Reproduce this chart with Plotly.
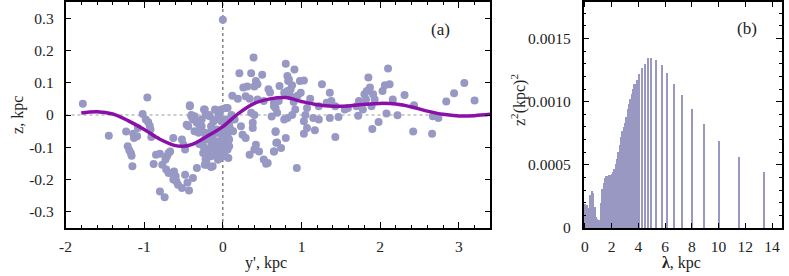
import plotly.graph_objects as go

# ---------------- panel (a): scatter + fitted curve ----------------
pts_x = [
    -1.78, -1.45, -1.23, -1.14, -1.13, -1.21, -1.19, -1.17, -1.16, -1.15, -1.08,
    -0.96, -1.02, -0.98, -0.95, -0.93, -0.92, -0.91, -1.09, -0.85, -0.88, -0.80, -0.74,
    -0.77, -0.73, -0.71, -0.69, -0.67, -0.63, -0.72, -0.69, -0.65, -0.62, -0.60, -0.63,
    -0.59, -0.57, -0.52, -0.48, -0.45, -0.43, -0.38, -0.52, -0.48, -0.50, -0.42, -0.44,
    -0.40, -0.38, -0.36, -0.33, -0.31, -0.29, -0.27, -0.24, -0.22, -0.23, -0.25, -0.24,
    -0.22, -0.21, -0.19, -0.18, -0.33, -0.80,
    0.00, 0.39, 0.21, 0.36, 0.50, 0.42, 0.26, 0.31, 0.40, 0.44, 0.29, 0.34, 0.19, 0.44,
    0.52, 0.65, 0.67, 0.36, 0.40, 0.38, 0.38, 0.23, 0.25, 0.29, 0.42, 0.40, 0.46, 0.34,
    0.52, 0.55, 0.65, 0.67, 0.68, 0.06, 0.11, 0.04, 0.08, 0.13, 0.08, 0.06, 0.07, -0.15,
    -0.06, -0.04, -0.10, -0.19, -0.21, -0.15, -0.10, -0.06, -0.02, -0.17, -0.08, -0.04,
    0.00, -0.13, -0.17, -0.06, 0.02, -0.02, 0.02, -0.10, -0.15, 0.04, 0.02, -0.02, 0.15,
    0.80, 0.91, 0.82, 0.84, 0.83, 0.98, 1.03, 1.26, 0.88, 0.86, 0.82, 0.78, 0.99, 1.36,
    0.86, 1.11, 0.71, 0.90, 0.65, 1.32, 1.38, 1.43, 1.22, 1.07, 0.92, 1.05, 0.88, 0.82,
    0.78, 1.15, 1.22, 1.36, 1.47, 1.03, 1.07, 1.17, 1.03, 0.67, 0.80, 0.69, 0.74, 0.65,
    1.43, 0.94, 0.69, 0.57,
    2.10, 1.85, 2.06, 2.12, 1.87, 1.83, 1.80, 1.91, 2.31, 2.03, 1.73, 1.82, 1.93, 2.16,
    1.59, 1.70, 1.78, 1.89, 1.72, 2.08, 2.22, 1.98, 1.90, 2.42, 1.55,
    2.43, 2.67, 2.74, 2.66, 2.84, 2.94, 3.07, 3.20,
    -0.23, -0.17, -0.10, -0.04, 0.04, -0.27, -0.23, -0.15, -0.06, -0.19, -0.10, -0.02,
    -0.25, -0.15, -0.06, -0.23, -0.13, 0.02, 0.08, 0.06, -0.40, -0.33, -0.36, -0.46,
    -0.42, -0.12, -0.08, 0.10, 0.12, -0.30, 0.60, 0.72, 0.95, 0.58, 0.62,
]
pts_z = [
    0.035, -0.064, -0.051, -0.058, -0.071, -0.097, -0.109, -0.118, -0.126, -0.159, -0.040,
    0.054, 0.003, -0.014, -0.022, -0.033, -0.045, -0.068, -0.066, -0.123, -0.152, -0.237, -0.255,
    -0.154, -0.138, -0.128, -0.118, -0.113, -0.071, -0.169, -0.180, -0.180, -0.175, -0.190, -0.200,
    -0.206, -0.216, -0.226, -0.185, -0.209, -0.234, -0.195, -0.076, -0.107, -0.092, 0.030, -0.035,
    0.000, -0.014, -0.004, -0.019, -0.055, -0.035, -0.014, 0.017, 0.000, -0.076, -0.097, -0.118,
    -0.138, -0.154, -0.128, -0.107, -0.164, -0.120,
    0.295, 0.178, 0.129, 0.129, 0.125, 0.105, 0.085, 0.088, 0.088, 0.095, 0.058, 0.050, 0.050, 0.048,
    0.043, 0.038, 0.022, 0.007, 0.000, -0.024, -0.040, -0.035, -0.061, -0.071, -0.092, -0.107, -0.113, -0.123,
    -0.138, -0.151, -0.113, -0.050, -0.086, 0.022, 0.000, -0.014, -0.030, -0.050, -0.076, -0.107, -0.133, -0.161,
    -0.138, -0.128, -0.107, -0.118, -0.144, -0.035, -0.014, 0.007, 0.017, -0.004, -0.045, -0.055,
    -0.066, -0.066, -0.076, -0.081, -0.086, -0.102, -0.118, -0.086, -0.097, -0.050, -0.035, -0.019, -0.014,
    0.159, 0.141, 0.121, 0.110, 0.105, 0.105, 0.107, 0.095, 0.092, 0.079, 0.074, 0.069, 0.069, 0.069,
    0.058, 0.050, 0.043, 0.040, 0.027, 0.038, 0.043, 0.027, 0.027, 0.022, 0.017, 0.000, 0.000, -0.009,
    -0.014, -0.009, -0.014, -0.009, -0.006, -0.019, -0.040, -0.047, -0.058, -0.053, -0.071, -0.085, -0.102, -0.113,
    -0.068, -0.164, 0.007, -0.149,
    0.144, 0.116, 0.092, 0.095, 0.085, 0.074, 0.064, 0.064, 0.062, 0.074, 0.043, 0.048, 0.048, 0.048,
    0.022, 0.027, 0.017, 0.027, -0.002, 0.005, -0.001, -0.022, -0.043, -0.051, 0.017,
    0.030, -0.004, -0.009, -0.058, 0.042, 0.067, 0.099, 0.045,
    0.017, 0.000, 0.017, -0.004, 0.022, -0.035, -0.055, -0.050, -0.055, -0.076, -0.086, -0.097,
    -0.118, -0.128, -0.138, -0.154, -0.159, -0.128, -0.097, -0.066, -0.004, -0.024, -0.050, -0.030,
    0.027, -0.020, -0.120, -0.045, 0.060, -0.090, 0.070, 0.090, 0.060, 0.080, -0.005,
]

curve_x = [-1.8, -1.6, -1.4, -1.2, -1.0, -0.8, -0.6, -0.5, -0.4, -0.2, 0.0, 0.2, 0.4, 0.6,
           0.8, 1.0, 1.2, 1.4, 1.6, 1.8, 2.0, 2.2, 2.4, 2.6, 2.8, 3.0, 3.2, 3.4]
curve_z = [0.006, 0.010, 0.003, -0.018, -0.045, -0.075, -0.095, -0.097, -0.092, -0.066,
           -0.036, 0.005, 0.036, 0.050, 0.054, 0.042, 0.032, 0.027, 0.028, 0.033, 0.036,
           0.034, 0.025, 0.012, 0.002, -0.003, -0.002, 0.002]

xa_ticks = [-2, -1, 0, 1, 2, 3]
xa_labels = ["-2", "-1", "0", "1", "2", "3"]
ya_ticks = [-0.3, -0.2, -0.1, 0, 0.1, 0.2, 0.3]
ya_labels = ["-0.3", "-0.2", "-0.1", "0", "0.1", "0.2", "0.3"]

# ---------------- panel (b): spectrum ----------------
dense_lam = [0.0, 0.1, 0.2, 0.3, 0.4, 0.5, 0.6, 0.7, 0.8, 0.9, 1.0, 1.1, 1.2, 1.3, 1.4,
             1.5, 1.6, 1.7, 1.8, 1.9, 2.0, 2.1, 2.2, 2.3, 2.4, 2.5, 2.6, 2.7, 2.8, 2.9,
             3.0, 3.1, 3.2, 3.3, 3.4, 3.5, 3.6, 3.7]
dense_pow = [0.00019, 0.00018, 0.00016, 0.00014, 0.00026, 0.00029, 0.00028, 0.00017,
             0.00009, 0.00007, 0.00006, 0.00006, 0.00020, 0.00031, 0.00036, 0.00040,
             0.00041, 0.00041, 0.00042, 0.00042, 0.00043, 0.00044, 0.00047, 0.00051,
             0.00055, 0.00060, 0.00066, 0.00072, 0.00077, 0.00080, 0.00083, 0.00088,
             0.00094, 0.00098, 0.00102, 0.00106, 0.00110, 0.00114]
line_lam = [3.85, 4.05, 4.25, 4.47, 4.72, 4.91, 5.31, 5.70, 6.10, 6.64, 7.26, 7.98,
            8.86, 10.02, 11.46, 13.36]
line_pow = [0.00117, 0.00122, 0.00127, 0.00130, 0.00135, 0.00135, 0.00133, 0.00129,
            0.00123, 0.00114, 0.00105, 0.00094, 0.00082, 0.00069, 0.00056, 0.00044]

xb_ticks = [0, 2, 4, 6, 8, 10, 12, 14]
xb_labels = ["0", "2", "4", "6", "8", "10", "12", "14"]
yb_ticks = [0, 0.0005, 0.0010, 0.0015]
yb_labels = ["0", "0.0005", "0.0010", "0.0015"]

PT = "rgb(152,152,196)"
LINE = "rgb(138,16,170)"
BAR = "rgb(152,152,194)"
FONT = "Liberation Serif"

fig = go.Figure()
fig.add_trace(go.Scatter(x=pts_x, y=pts_z, mode="markers", xaxis="x", yaxis="y",
                         marker=dict(color=PT, size=8, line=dict(width=0)),
                         showlegend=False))
fig.add_trace(go.Scatter(x=curve_x, y=curve_z, mode="lines", xaxis="x", yaxis="y",
                         line=dict(color=LINE, width=3.5, shape="spline", smoothing=1.0),
                         showlegend=False))
fig.add_trace(go.Bar(x=dense_lam, y=dense_pow, width=[0.13] * len(dense_lam),
                     xaxis="x2", yaxis="y2", marker=dict(color=BAR, line=dict(width=0)),
                     showlegend=False))
fig.add_trace(go.Bar(x=line_lam, y=line_pow, width=[0.15] * len(line_lam),
                     xaxis="x2", yaxis="y2", marker=dict(color=BAR, line=dict(width=0)),
                     showlegend=False))

axis_common = dict(showline=True, linecolor="black", linewidth=1.5, mirror="allticks",
                   ticks="inside", tickcolor="black", tickwidth=1.2, showgrid=False,
                   zeroline=False, tickfont=dict(family=FONT, size=15.5, color="#222"))

W, H = 789, 276
T, B = 2, 48

fig.update_layout(
    width=W, height=H,
    margin=dict(l=0, r=0, t=T, b=B),
    plot_bgcolor="white", paper_bgcolor="white",
    bargap=0,
    xaxis=dict(domain=[60 / W, 488 / W], range=[-2, 3.4], tickvals=xa_ticks,
               ticktext=xa_labels, ticklen=6, ticklabelstandoff=4,
               minor=dict(ticks="inside", dtick=0.2, ticklen=3, tickcolor="black"),
               anchor="y", **axis_common),
    yaxis=dict(domain=[0, 1], range=[-0.35, 0.35], tickvals=ya_ticks, ticktext=ya_labels,
               ticklen=6, anchor="x", ticklabelstandoff=7, **axis_common),
    xaxis2=dict(domain=[582 / W, 782 / W], range=[-0.1, 14.75], tickvals=xb_ticks,
                ticktext=xb_labels, ticklen=5, anchor="y2", ticklabelstandoff=4,
                **axis_common),
    yaxis2=dict(domain=[0, 1], range=[0, 0.00179], tickvals=yb_ticks, ticktext=yb_labels,
                ticklen=6, anchor="x2", ticklabelstandoff=8,
                minor=dict(ticks="inside", dtick=0.0001, ticklen=3, tickcolor="black"),
                **axis_common),
    shapes=[
        dict(type="line", xref="x", yref="y", x0=-2, x1=3.4, y0=0, y1=0,
             line=dict(color="#999", width=1.2, dash="dot"), layer="below"),
        dict(type="line", xref="x", yref="y", x0=0, x1=0, y0=-0.35, y1=0.35,
             line=dict(color="#444", width=1, dash="dot"), layer="below"),
    ],
)

PH = H - T - B
def pap(px, py):
    return px / W, (H - B - py) / PH

anns = []
for txt, px, py, ang, fs in [
    ("(a)", 438, 30, 0, 17),
    ("(b)", 747, 29, 0, 17),
    ("z, kpc", 12, 115, -90, 16),
    ("y', kpc", 262, 263, 0, 16),
    ("z<sup>2</sup>(kpc)<sup>2</sup>", 516, 100, -90, 16),
    ("<b>λ</b>, kpc", 681, 263, 0, 16),
]:
    ax_, ay_ = pap(px, py)
    anns.append(dict(text=txt, x=ax_, y=ay_, xref="paper", yref="paper", showarrow=False,
                     textangle=ang, xanchor="center", yanchor="middle",
                     font=dict(family=FONT, size=fs, color="#222")))
fig.update_layout(annotations=anns)

fig.write_html("out.html", config={"displayModeBar": False},
               post_script="document.body.style.margin='0';document.body.style.overflow='hidden';")
